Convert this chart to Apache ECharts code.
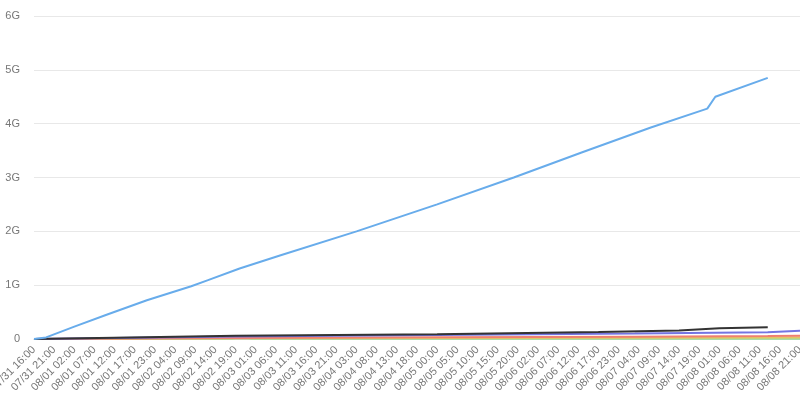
<html>
<head>
    <meta charset="utf-8">
    <title>traffic</title>
    <script src="https://cdn.jsdelivr.net/npm/echarts@6/dist/echarts.min.js"></script>
    <style>
        html, body { margin: 0; padding: 0; background: #fff; }
    </style>
</head>
<body>
<div id="chartmain" style="width:800px; height:419px;"></div>
<script type="text/javascript">
    // hourly categories 07/31 16:00 .. 08/08 21:00, a few hours missing
    var startDay = 31, startHour = 16, hourCount = 198;
    var missingHours = ['08/01 20:00', '08/02 22:00', '08/04 00:00', '08/04 21:00', '08/05 23:00', '08/06 20:00', '08/07 22:00'];

    // [category index, value in G]
    var blueData = [[0, 0], [3, 0.03], [10, 0.23], [18, 0.45], [28, 0.72], [39, 0.98], [43, 1.09], [51, 1.31],
        [61, 1.55], [80, 2.0], [100, 2.5], [119, 3.0], [136, 3.47], [153, 3.93], [167, 4.28],
        [169, 4.5], [182, 4.85]];
    var blackData = [[0, 0], [20, 0.025], [50, 0.06], [100, 0.09], [140, 0.13], [160, 0.16], [170, 0.2], [182, 0.22]];
    var purpleData = [[0, 0], [20, 0.02], [50, 0.045], [100, 0.075], [149, 0.1], [182, 0.125], [190, 0.155]];
    var orangeData = [[0, 0], [50, 0.02], [100, 0.033], [149, 0.043], [182, 0.055], [190, 0.06]];
    var yellowData = [[0, 0], [50, 0.012], [100, 0.018], [149, 0.025], [190, 0.03]];
    var greenData = [[0, 0], [49, 0.004], [50, 0.012], [53, 0.012], [54, 0.004], [190, 0.006]];

    var yTicks = [0, 1, 2, 3, 4, 5, 6];

    function pad(n) { return n < 10 ? '0' + n : '' + n; }
    var categories = [];
    for (var i = 0; i < hourCount; i++) {
        var h = startHour + i;
        var d = startDay + Math.floor(h / 24);
        var month = d > 31 ? 8 : 7;
        var day = d > 31 ? d - 31 : d;
        var name = pad(month) + '/' + pad(day) + ' ' + pad(h % 24) + ':00';
        if (missingHours.indexOf(name) < 0) categories.push(name);
    }

    function line(name, color, data) {
        return {
            name: name, type: 'line', symbol: 'none', data: data,
            lineStyle: { color: color, width: 2 }, itemStyle: { color: color }
        };
    }

    var myChart = echarts.init(document.getElementById('chartmain'));
    myChart.setOption({
        animation: false,
        grid: { left: 34, right: 0, top: 16, bottom: 80, containLabel: false, outerBoundsMode: 'none' },
        xAxis: {
            type: 'category',
            boundaryGap: false,
            data: categories,
            axisLine: { lineStyle: { color: '#ccc' } },
            axisTick: { show: false },
            axisLabel: { interval: 4, rotate: 45, fontSize: 11, margin: 9, color: '#777' }
        },
        yAxis: {
            type: 'value',
            min: yTicks[0],
            max: yTicks[yTicks.length - 1],
            interval: 1,
            axisLine: { show: false },
            axisTick: { show: false },
            splitLine: { lineStyle: { color: '#e8e8e8' } },
            axisLabel: {
                fontSize: 11, color: '#777', margin: 14,
                formatter: function (v) { return v === 0 ? '0' : v + 'G'; }
            }
        },
        series: [
            line('green', '#9ee09e', greenData),
            line('yellow', '#e3c463', yellowData),
            line('orange', '#f08070', orangeData),
            line('purple', '#7474e2', purpleData),
            line('black', '#333333', blackData),
            line('blue', '#68aceb', blueData)
        ]
    });
</script>
</body>
</html>
